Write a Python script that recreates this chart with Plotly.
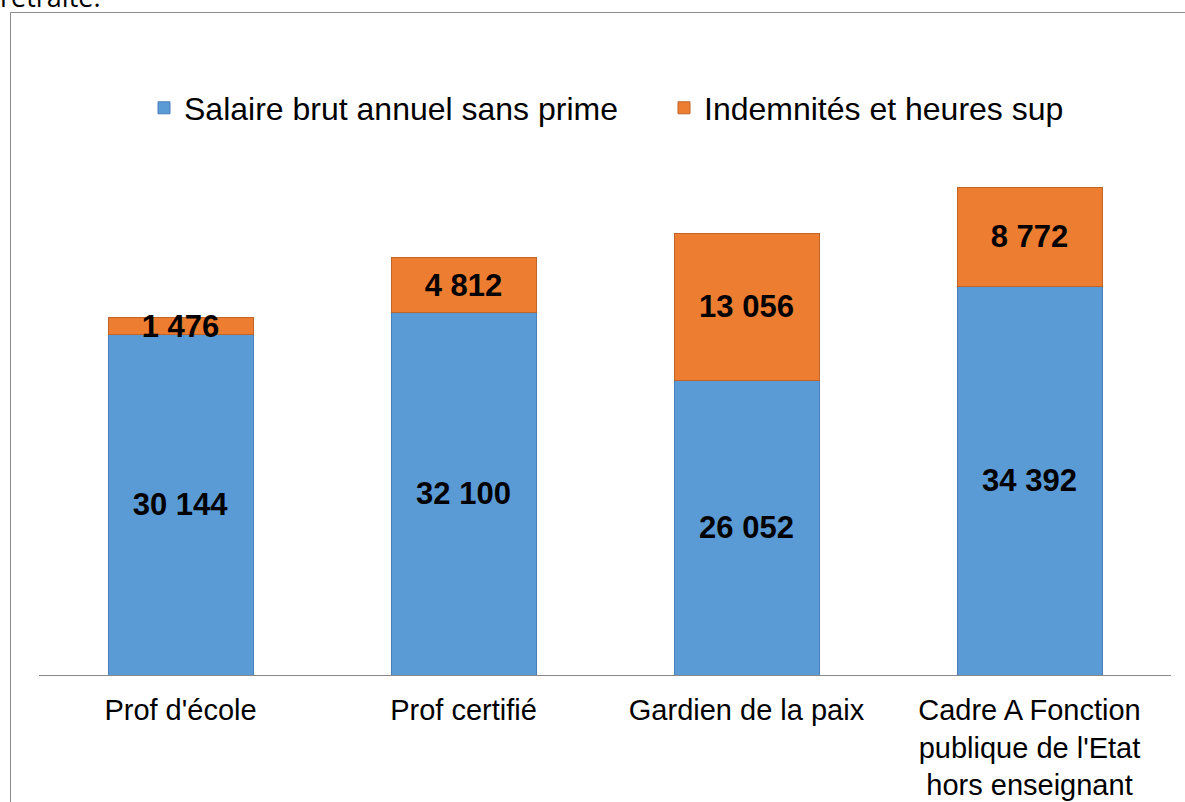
import plotly.graph_objects as go

# ---- data ----
categories = [
    "Prof d'école",
    "Prof certifié",
    "Gardien de la paix",
    "Cadre A Fonction<br>publique de l'Etat<br>hors enseignant",
]
salaire = [30144, 32100, 26052, 34392]
indemnites = [1476, 4812, 13056, 8772]
series_names = ["Salaire brut annuel sans prime", "Indemnités et heures sup"]

# ---- layout constants ----
W, H = 1185, 802
ML, MR, MT, MB = 39, 14, 110, 127
PW, PH = W - ML - MR, H - MT - MB
FONT = "Liberation Sans, Arial, sans-serif"


def px_to_paper_x(px):
    return (px - ML) / PW


def px_to_paper_y(py):
    return (H - MB - py) / PH


fig = go.Figure()
fig.add_trace(go.Bar(
    x=categories, y=salaire, name=series_names[0],
    marker=dict(color="#5B9BD5", line=dict(color="#4A7EBB", width=1)),
    texttemplate="%{y:,.0f}", textposition="inside", insidetextanchor="middle",
    constraintext="none",
    textfont=dict(family=FONT, size=31, color="#000000", weight="bold"),
))
fig.add_trace(go.Bar(
    x=categories, y=indemnites, name=series_names[1],
    marker=dict(color="#ED7D31", line=dict(color="#C0642A", width=1)),
    texttemplate="%{y:,.0f}", textposition="inside", insidetextanchor="middle",
    constraintext="none",
    textfont=dict(family=FONT, size=31, color="#000000", weight="bold"),
))

fig.update_layout(
    width=W, height=H,
    margin=dict(l=ML, r=MR, t=MT, b=MB, pad=0, autoexpand=False),
    barmode="stack", bargap=0.4876,
    separators=", ",
    paper_bgcolor="white", plot_bgcolor="white",
    font=dict(family=FONT, size=29, color="#000000"),
    showlegend=True,
    legend=dict(
        orientation="h", xref="container", yref="container",
        x=144 / W, y=1 - 108 / H, xanchor="left", yanchor="middle",
        traceorder="normal",
        font=dict(family=FONT, size=32, color="#000000"),
        entrywidth=475, entrywidthmode="pixels",
        bgcolor="rgba(0,0,0,0)", borderwidth=0,
    ),
    xaxis=dict(
        showline=True, linecolor="#898989", linewidth=1,
        showgrid=False, ticks="", zeroline=False, automargin=False,
        ticklabelstandoff=9,
        tickfont=dict(family=FONT, size=29, color="#000000"),
    ),
    yaxis=dict(
        range=[0, 50000], visible=False, showgrid=False, zeroline=False,
        automargin=False,
    ),
    shapes=[dict(
        type="rect", xref="paper", yref="paper",
        x0=px_to_paper_x(10.5), x1=px_to_paper_x(W + 20),
        y0=px_to_paper_y(H + 20), y1=px_to_paper_y(12.5),
        line=dict(color="#8C8C8C", width=1), fillcolor="rgba(0,0,0,0)",
        layer="below",
    )],
    annotations=[dict(
        text="retraite.", xref="paper", yref="paper",
        x=px_to_paper_x(-2), y=px_to_paper_y(-4),
        xanchor="left", yanchor="middle", showarrow=False,
        font=dict(family="Open Sans, sans-serif", size=27, color="#000000"),
    )],
)

fig.write_html(
    "out.html",
    config={"displayModeBar": False},
    post_script="document.body.style.margin='0';document.body.style.overflow='hidden';",
)
